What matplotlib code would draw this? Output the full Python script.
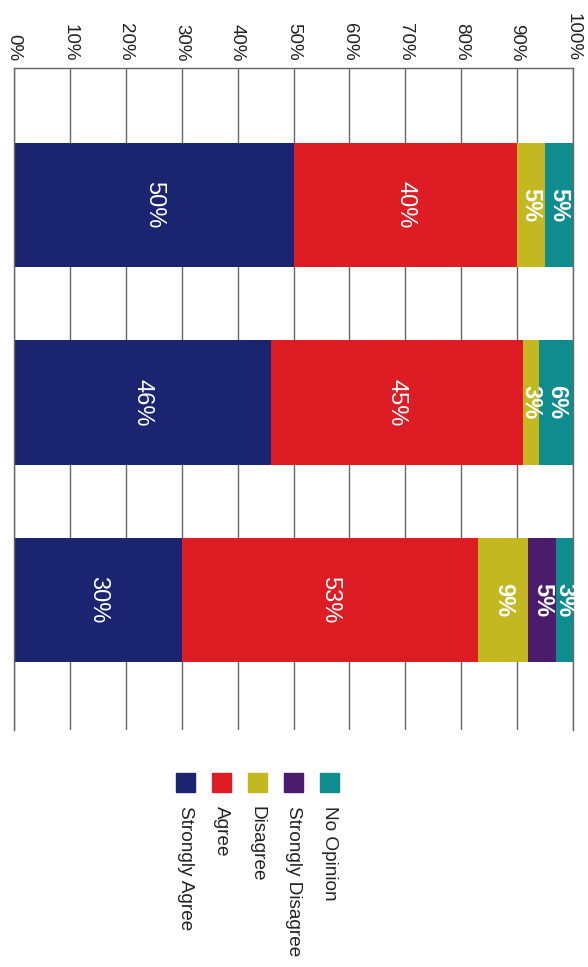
import numpy as np
import matplotlib.pyplot as plt
from matplotlib.patches import Rectangle

plt.rcParams['font.family'] = ['Liberation Sans', 'DejaVu Sans']

# data (rotated stacked column chart, read top to bottom)
series = ['Strongly Agree', 'Agree', 'Disagree', 'Strongly Disagree', 'No Opinion']
colors = ['#1b2470', '#dd1c24', '#c3b81f', '#4b1c6b', '#0f8d8e']
strongly_agree = [50, 46, 30]
agree = [40, 45, 53]
disagree = [5, 3, 9]
strongly_disagree = [0, 0, 5]
no_opinion = [5, 6, 3]
tick_values = list(range(0, 101, 10))
tick_labels = [f'{t}%' for t in tick_values]

values = [strongly_agree, agree, disagree, strongly_disagree, no_opinion]

W, H = 588, 967
fig = plt.figure(figsize=(W / 100, H / 100), dpi=100)
ax = fig.add_axes([14 / W, 1 - 730 / H, (573 - 14) / W, (730 - 68) / H])

y = np.arange(len(strongly_agree))
left = np.zeros(len(y))
for name, vals, col in zip(series, values, colors):
    vals = np.array(vals, dtype=float)
    ax.barh(y, vals, left=left, height=0.63, color=col, zorder=2)
    for yi, l, v in zip(y, left, vals):
        if v > 0:
            ax.text(l + v / 2, yi, f'{int(v)}%', rotation=-90, ha='center', va='center',
                    color='white', fontsize=17, fontweight='bold' if v < 10 else 'normal',
                    zorder=3)
    left += vals

ax.set_xlim(0, 100)
ax.set_ylim(2.66, -0.695)
ax.set_xticks(tick_values)
ax.set_xticklabels(tick_labels)
ax.set_yticks([])
ax.xaxis.tick_top()
ax.tick_params(axis='x', length=0, pad=5, labelsize=13.5, labelrotation=-90, colors='#222222')
ax.xaxis.grid(True, color='#666666', lw=1)
ax.set_axisbelow(True)
for s in ['top', 'left', 'right']:
    ax.spines[s].set_color('#666666')
    ax.spines[s].set_linewidth(1)
ax.spines['bottom'].set_visible(False)

# legend drawn by hand (rotated like the rest of the chart)
for i, (name, col) in enumerate(zip(series, colors)):
    xc = (185.5 + 35.9 * i) / W
    fig.patches.append(Rectangle((xc - 9.5 / W, 1 - 792 / H), 19 / W, 19 / H,
                                 transform=fig.transFigure, color=col))
    fig.text(xc, 1 - 806 / H, name, rotation=-90, ha='center', va='top',
             fontsize=13.7, color='#222222')

fig.savefig('out.png', dpi=100)
